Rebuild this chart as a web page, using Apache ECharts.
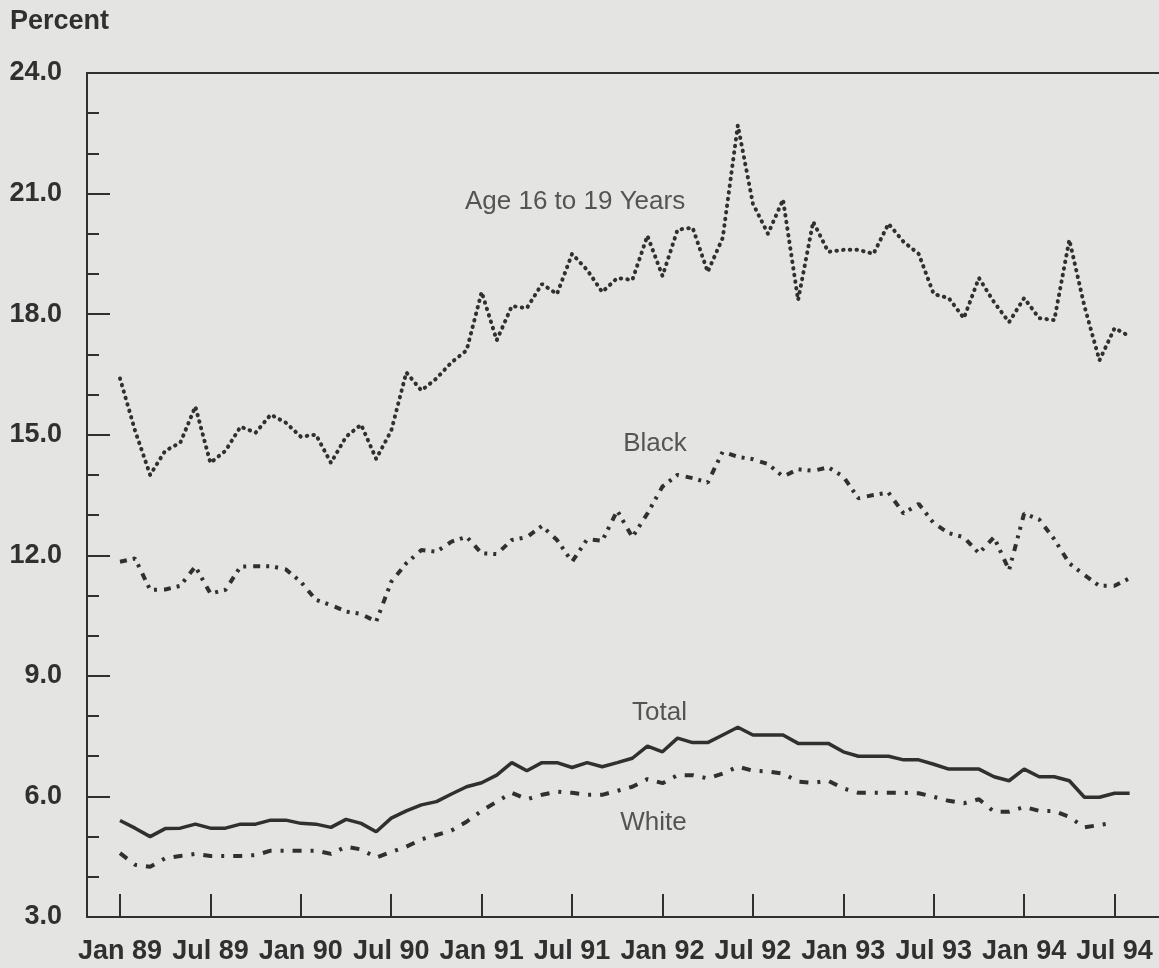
<!DOCTYPE html>
<html>
<head>
<meta charset="utf-8">
<script src="https://cdn.jsdelivr.net/npm/echarts@6/dist/echarts.min.js"></script>
<style>
  html, body { margin: 0; padding: 0; background: #e4e4e2; }
  #chart { width: 1159px; height: 968px; }
</style>
</head>
<body>
<div id="chart"></div>
<script>
// Month index 0 = Jan 89
const tickLabels = ['Jan 89','Jul 89','Jan 90','Jul 90','Jan 91','Jul 91','Jan 92','Jul 92','Jan 93','Jul 93','Jan 94','Jul 94'];
const tickMonths = [0,6,12,18,24,30,36,42,48,54,60,66];

const ageTeen = [16.4,15.1,14.0,14.6,14.8,15.7,14.3,14.6,15.2,15.05,15.5,15.3,
  14.95,15.0,14.3,14.95,15.25,14.4,15.1,16.55,16.1,16.4,16.8,17.1,
  18.55,17.35,18.2,18.15,18.75,18.5,19.5,19.1,18.55,18.9,18.85,19.95,
  18.95,20.1,20.15,19.05,19.9,22.7,20.75,20.0,20.85,18.35,20.3,19.55,
  19.6,19.6,19.5,20.25,19.8,19.5,18.5,18.4,17.9,18.9,18.3,17.8,
  18.4,17.9,17.85,19.85,18.2,16.85,17.65,17.45];

const black = [11.84,11.92,11.14,11.15,11.24,11.72,11.05,11.14,11.72,11.73,11.73,11.65,
  11.34,10.89,10.76,10.6,10.54,10.35,11.34,11.8,12.13,12.09,12.34,12.46,
  12.05,12.03,12.38,12.45,12.73,12.38,11.84,12.4,12.36,13.11,12.45,13.04,
  13.71,14.0,13.92,13.81,14.58,14.45,14.39,14.27,13.96,14.14,14.1,14.19,
  13.96,13.42,13.5,13.56,13.04,13.28,12.8,12.55,12.45,12.05,12.45,11.63,
  13.04,12.89,12.4,11.8,11.51,11.24,11.24,11.43];

const total = [5.4,5.21,5.0,5.2,5.21,5.31,5.21,5.21,5.31,5.31,5.41,5.41,
  5.33,5.31,5.23,5.43,5.33,5.12,5.46,5.64,5.79,5.87,6.06,6.24,
  6.34,6.53,6.84,6.64,6.84,6.84,6.72,6.84,6.74,6.84,6.95,7.25,
  7.11,7.45,7.34,7.34,7.53,7.72,7.53,7.53,7.53,7.32,7.32,7.32,
  7.11,7.0,7.0,7.0,6.91,6.91,6.8,6.68,6.68,6.68,6.49,6.39,
  6.68,6.49,6.49,6.39,5.98,5.98,6.08,6.08];

const white = [4.59,4.3,4.25,4.46,4.52,4.57,4.52,4.52,4.52,4.54,4.65,4.65,
  4.65,4.65,4.57,4.75,4.68,4.48,4.62,4.75,4.93,5.04,5.15,5.37,
  5.64,5.87,6.09,5.93,6.04,6.12,6.09,6.04,6.04,6.14,6.24,6.43,
  6.33,6.53,6.53,6.45,6.57,6.74,6.64,6.62,6.57,6.37,6.34,6.39,
  6.2,6.09,6.09,6.09,6.09,6.08,5.99,5.89,5.83,5.93,5.62,5.62,
  5.74,5.64,5.64,5.49,5.23,5.29,5.35];

const labelNames = ['Age 16 to 19 Years','Black','Total','White'];
const labelMonths = [30.2, 35.5, 35.8, 35.4];
const labelValues = [20.8, 14.77, 8.09, 5.34];

const INK = '#303030';
const FONT = '"Liberation Sans", Arial, Helvetica, sans-serif';

const toPts = arr => arr.map((v, i) => [i, v]);

const chart = echarts.init(document.getElementById('chart'), null, { renderer: 'canvas' });

const xMin = -2.19, xMax = 68.95;

chart.setOption({
  backgroundColor: '#e4e4e2',
  animation: false,
  title: {
    text: 'Percent', left: 10, top: 8, padding: 0,
    textStyle: { color: INK, fontFamily: FONT, fontSize: 27, fontWeight: 'bold' }
  },
  grid: { left: 87, right: 0, top: 73, bottom: 51, containLabel: false },
  xAxis: [{
    type: 'value', position: 'bottom', min: xMin, max: xMax,
    axisLine: { show: true, onZero: false, lineStyle: { color: INK, width: 2 } },
    axisTick: { show: true, inside: true, length: 23, customValues: tickMonths, lineStyle: { color: INK, width: 2 } },
    axisLabel: {
      show: true, customValues: tickMonths, margin: 21,
      color: INK, fontFamily: FONT, fontSize: 27, fontWeight: 'bold',
      formatter: v => tickLabels[tickMonths.indexOf(Math.round(v))] || ''
    },
    splitLine: { show: false }
  }, {
    type: 'value', position: 'top', min: xMin, max: xMax,
    axisLine: { show: true, onZero: false, lineStyle: { color: INK, width: 2 } },
    axisTick: { show: false }, axisLabel: { show: false }, splitLine: { show: false }
  }],
  yAxis: {
    type: 'value', min: 3, max: 24, interval: 3,
    axisLine: { show: true, onZero: false, lineStyle: { color: INK, width: 2 } },
    axisTick: { show: true, inside: true, length: 23, lineStyle: { color: INK, width: 2 } },
    minorTick: { show: true, splitNumber: 3, length: 12, lineStyle: { color: INK, width: 2 } },
    axisLabel: {
      color: INK, fontFamily: FONT, fontSize: 27, fontWeight: 'bold', margin: 25,
      padding: [6, 0, 0, 0],
      formatter: v => v.toFixed(1)
    },
    splitLine: { show: false }, minorSplitLine: { show: false }
  },
  series: [
    {
      name: 'Age 16 to 19 Years', type: 'line', data: toPts(ageTeen), symbol: 'none',
      lineStyle: { color: INK, width: 4, type: [0.5, 6.2], cap: 'round' }
    },
    {
      name: 'Black', type: 'line', data: toPts(black), symbol: 'none',
      lineStyle: { color: INK, width: 4, type: [7, 6, 3, 6, 3, 7], cap: 'butt' }
    },
    {
      name: 'Total', type: 'line', data: toPts(total), symbol: 'none',
      lineStyle: { color: INK, width: 3.5, type: 'solid' }
    },
    {
      name: 'White', type: 'line', data: toPts(white), symbol: 'none',
      lineStyle: { color: INK, width: 4, type: [9, 9, 3, 9], cap: 'butt' }
    },
    {
      name: 'labels', type: 'scatter', symbolSize: 1,
      itemStyle: { color: 'rgba(0,0,0,0)' },
      data: labelNames.map((n, i) => ({ name: n, value: [labelMonths[i], labelValues[i]] })),
      label: {
        show: true, position: 'inside', formatter: '{b}',
        color: INK, fontFamily: FONT, fontSize: 26, fontWeight: 'normal'
      },
      silent: true
    }
  ]
});
</script>
</body>
</html>
